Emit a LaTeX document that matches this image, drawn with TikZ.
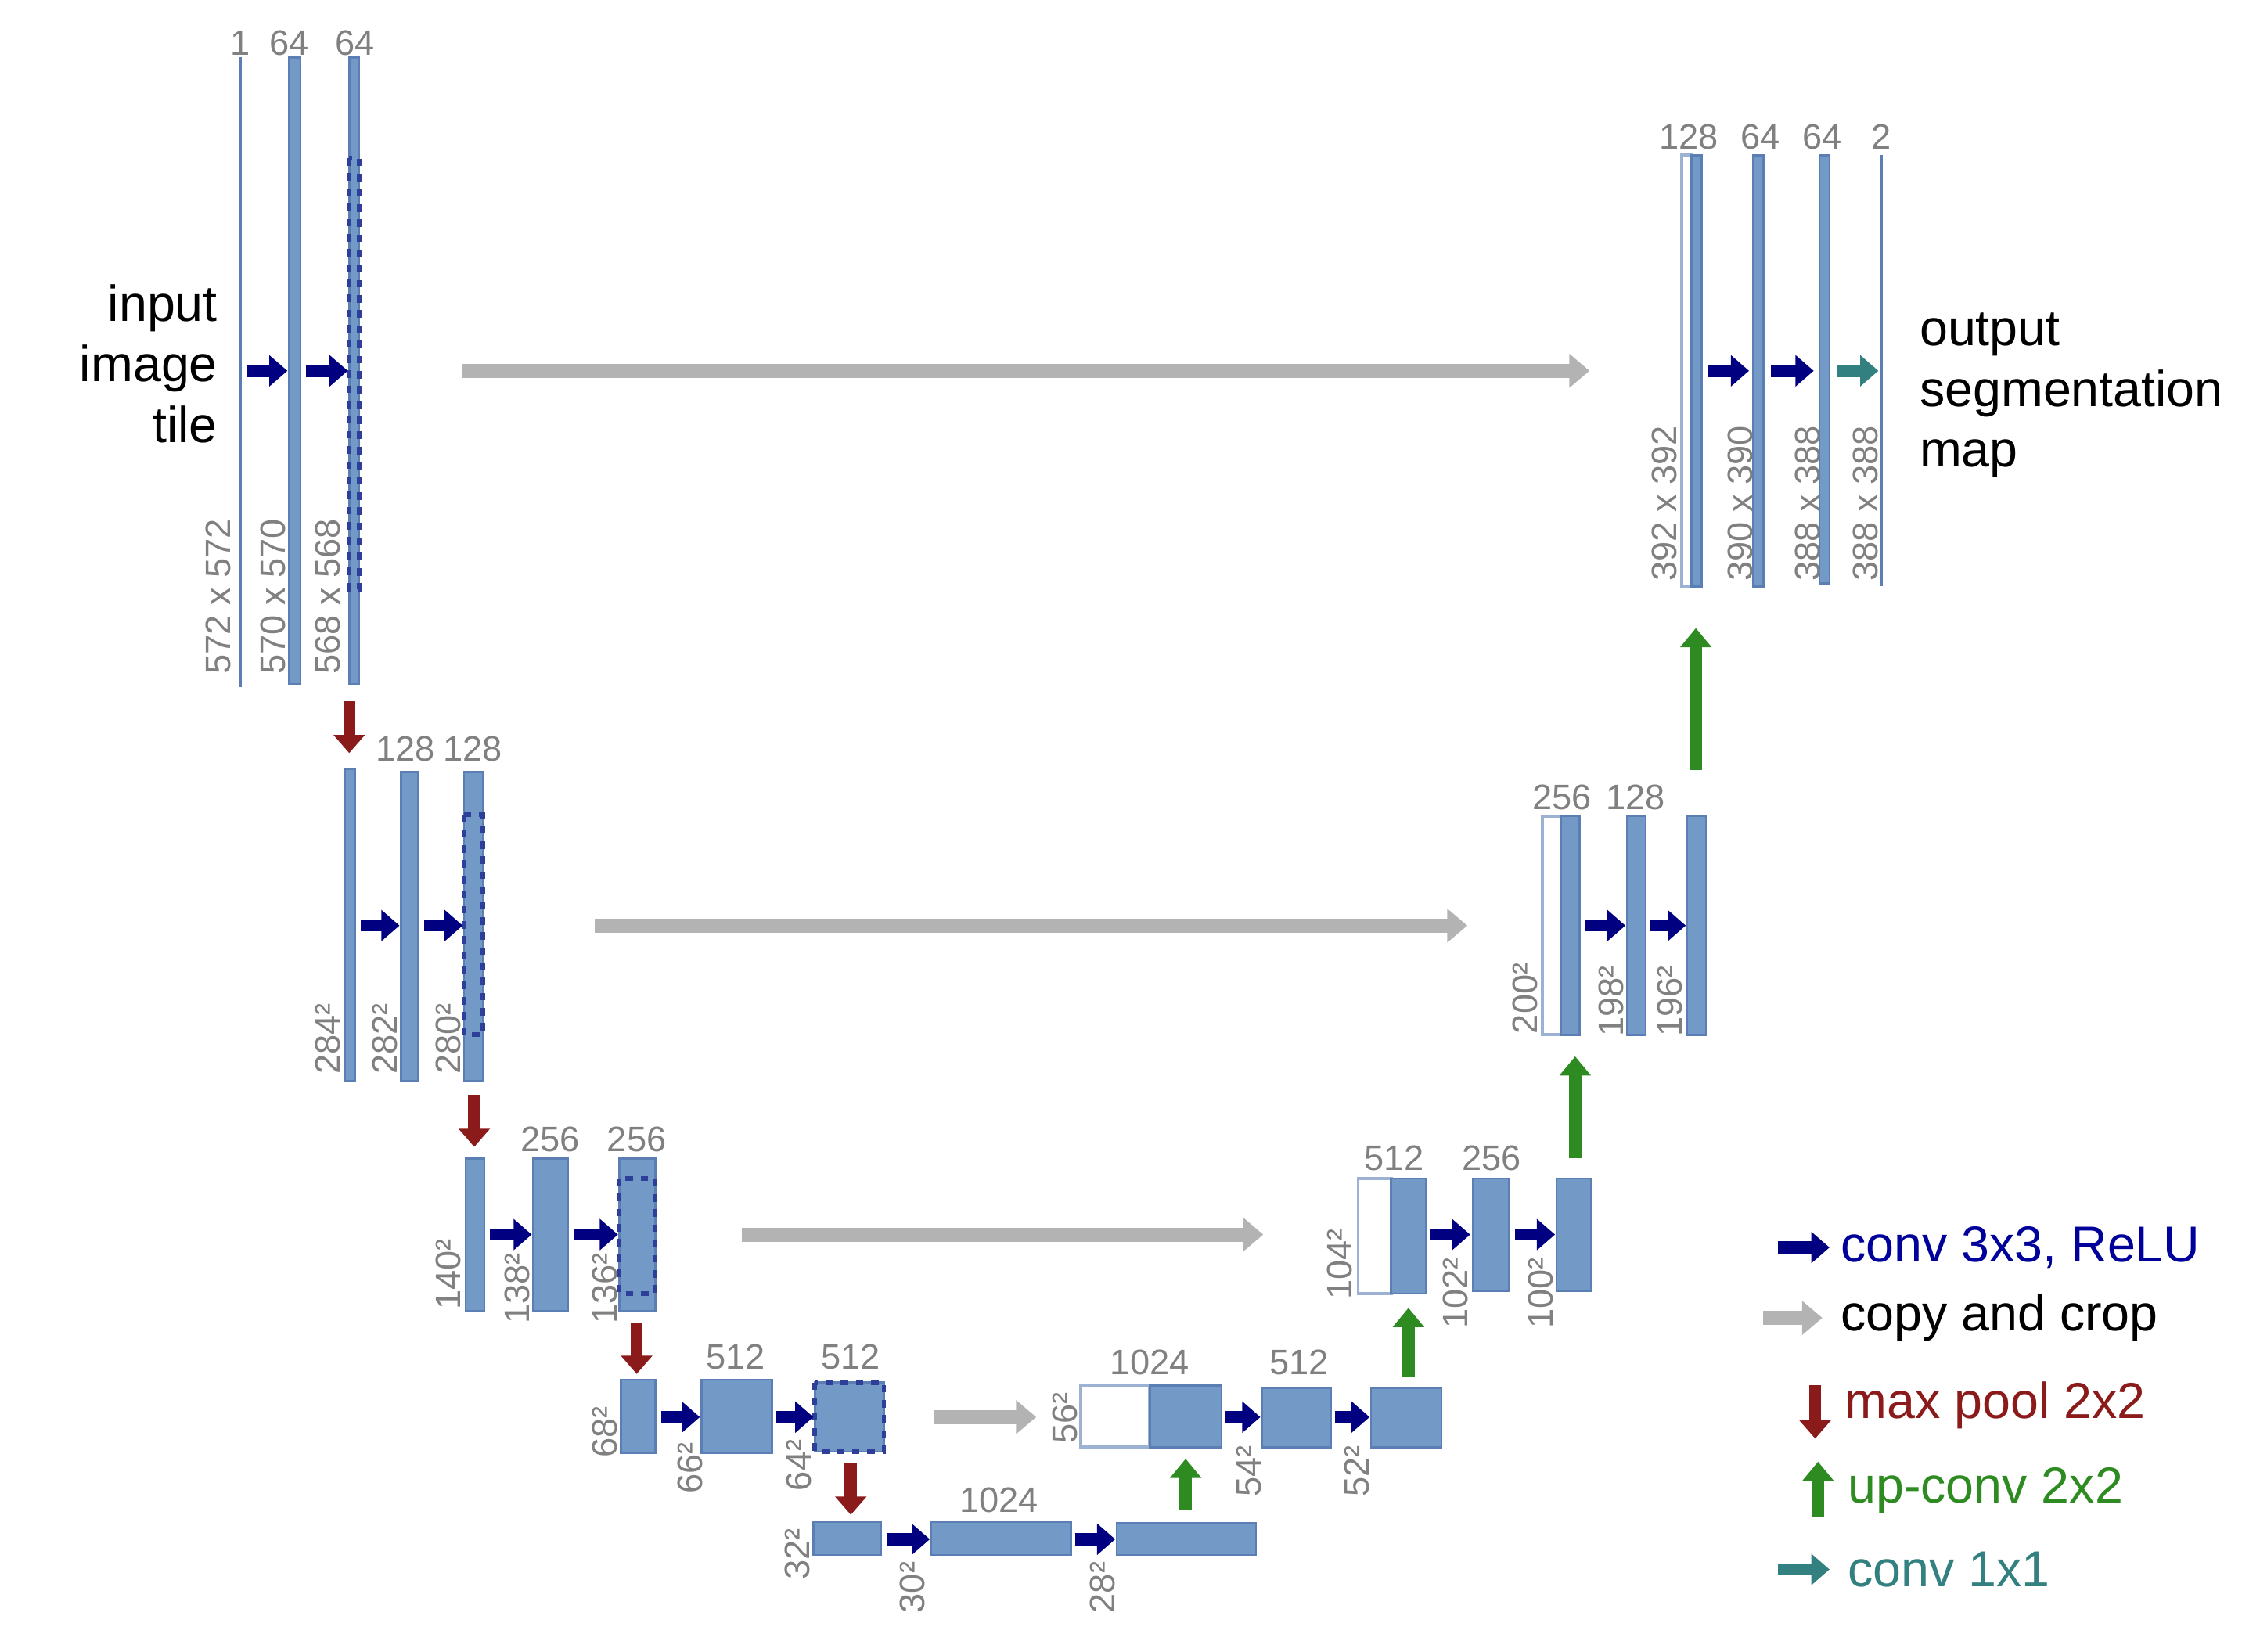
\documentclass[tikz,border=0pt]{standalone}
\usepackage{fontspec}
\setmainfont{Liberation Sans}
\usetikzlibrary{arrows.meta}
\definecolor{bfill}{HTML}{7399C6}
\definecolor{bedge}{HTML}{5B7FB5}
\definecolor{navy}{HTML}{000080}
\definecolor{cgray}{HTML}{B3B3B3}
\definecolor{mred}{HTML}{8B1A1A}
\definecolor{ugreen}{HTML}{2E8B22}
\definecolor{cteal}{HTML}{338080}
\definecolor{lblc}{HTML}{808080}
\tikzset{
 blk/.style={fill=bfill,draw=bedge,line width=0.4pt},
 wblk/.style={fill=white,draw=bedge!60,line width=0.6pt},
 dsh/.style={draw=bedge!50!navy,dashed,line width=0.9pt,dash pattern=on 1.5pt off 1.5pt},
 conv/.style={navy,line width=2.4pt,-{Triangle[length=3.6pt,width=6pt]}},
 copy/.style={cgray,line width=2.8pt,-{Triangle[length=4pt,width=6.5pt]}},
 pool/.style={mred,line width=2.4pt,-{Triangle[length=3.6pt,width=6pt]}},
 up/.style={ugreen,line width=2.4pt,-{Triangle[length=3.8pt,width=6pt]}},
 one/.style={cteal,line width=2.4pt,-{Triangle[length=3.6pt,width=6pt]}},
 num/.style={lblc,font=\fontsize{7pt}{8pt}\selectfont,inner sep=0pt},
 vl/.style={lblc,font=\fontsize{7pt}{8pt}\selectfont,inner sep=0pt,rotate=90,anchor=west},
 big/.style={font=\fontsize{10pt}{12pt}\selectfont,inner sep=0pt,align=left},
 leg/.style={font=\fontsize{10pt}{12pt}\selectfont,inner sep=0pt,anchor=west},
}
\begin{document}
\begin{tikzpicture}[x=0.01cm,y=-0.01cm]
\useasboundingbox (0,0) rectangle (1560,1149);
% ---- level 1
\draw[bedge,line width=0.6pt] (167,40) -- (167,478);
\draw[blk] (201,40) rectangle (209,476);
\draw[blk] (243,40) rectangle (250,476);
\draw[dsh] (243,110) rectangle (250,410);
\node[num] (n1) at (167,30) {1};
\node[num] (n2) at (201,30) {64};
\node[num] (n3) at (247,30) {64};
\node[vl] at (152,470) {572 x 572};
\node[vl] at (190,470) {570 x 570};
\node[vl] at (228,470) {568 x 568};
\node[big,align=right,anchor=east] at (152,253) {input\\image\\tile};
\draw[conv] (172,258) -- (200,258);
\draw[conv] (213,258) -- (242,258);
\draw[copy] (322,258) -- (1106,258);
\draw[pool] (243,488) -- (243,524);
% ---- level 2
\draw[blk] (240,535) rectangle (247,752);
\draw[blk] (279,537) rectangle (291,752);
\draw[blk] (323,537) rectangle (336,752);
\draw[dsh] (323,567) rectangle (336,720);
\node[num] at (282,521) {128};
\node[num] at (329,521) {128};
\node[vl] at (228,748) {284²};
\node[vl] at (268,748) {282²};
\node[vl] at (312,748) {280²};
\draw[conv] (251,644) -- (278,644);
\draw[conv] (295,644) -- (322,644);
\draw[copy] (414,644) -- (1021,644);
\draw[pool] (330,762) -- (330,798);
% ---- level 3
\draw[blk] (324,806) rectangle (337,912);
\draw[blk] (371,806) rectangle (395,912);
\draw[blk] (431,806) rectangle (456,912);
\draw[dsh] (431,820) rectangle (456,900);
\node[num] at (383,793) {256};
\node[num] at (443,793) {256};
\node[vl] at (312,912) {140²};
\node[vl] at (360,922) {138²};
\node[vl] at (421,922) {136²};
\draw[conv] (341,859) -- (370,859);
\draw[conv] (399,859) -- (430,859);
\draw[copy] (516,859) -- (879,859);
\draw[pool] (443,920) -- (443,956);
% ---- level 4
\draw[blk] (432,960) rectangle (456,1011);
\draw[blk] (488,960) rectangle (537,1011);
\draw[blk] (567,962) rectangle (615,1010);
\draw[dsh] (567,962) rectangle (615,1010);
\node[num] at (512,944) {512};
\node[num] at (592,944) {512};
\node[vl] at (421,1015) {68²};
\node[vl] at (480,1040) {66²};
\node[vl] at (556,1038) {64²};
\draw[conv] (460,986) -- (487,986);
\draw[conv] (540,986) -- (566,986);
\draw[copy] (650,986) -- (721,986);
\draw[pool] (592,1018) -- (592,1054);
% ---- level 5
\draw[blk] (566,1059) rectangle (613,1082);
\draw[blk] (648,1059) rectangle (745,1082);
\draw[blk] (777,1060) rectangle (874,1082);
\node[num] at (695,1044) {1024};
\node[vl] at (555,1100) {32²};
\node[vl] at (635,1123) {30²};
\node[vl] at (767,1123) {28²};
\draw[conv] (617,1071) -- (647,1071);
\draw[conv] (748,1071) -- (776,1071);
\draw[up] (825,1051) -- (825,1015);
% ---- up 4
\draw[wblk] (752,964) rectangle (800,1007);
\draw[blk] (800,964) rectangle (850,1007);
\draw[blk] (878,966) rectangle (926,1007);
\draw[blk] (954,966) rectangle (1003,1007);
\node[num] at (800,948) {1024};
\node[num] at (904,948) {512};
\node[vl] at (741,1005) {56²};
\node[vl] at (869,1042) {54²};
\node[vl] at (944,1042) {52²};
\draw[conv] (852,986) -- (877,986);
\draw[conv] (929,986) -- (953,986);
\draw[up] (980,958) -- (980,910);
% ---- up 3
\draw[wblk] (945,820) rectangle (968,900);
\draw[blk] (968,820) rectangle (992,900);
\draw[blk] (1025,820) rectangle (1050,898);
\draw[blk] (1083,820) rectangle (1107,898);
\node[num] at (970,806) {512};
\node[num] at (1038,806) {256};
\node[vl] at (932,905) {104²};
\node[vl] at (1013,925) {102²};
\node[vl] at (1072,925) {100²};
\draw[conv] (995,859) -- (1023,859);
\draw[conv] (1054,859) -- (1082,859);
\draw[up] (1096,806) -- (1096,735);
% ---- up 2
\draw[wblk] (1073,568) rectangle (1086,720);
\draw[blk] (1086,568) rectangle (1099,720);
\draw[blk] (1132,568) rectangle (1145,720);
\draw[blk] (1174,568) rectangle (1187,720);
\node[num] at (1087,555) {256};
\node[num] at (1138,555) {128};
\node[vl] at (1061,720) {200²};
\node[vl] at (1121,722) {198²};
\node[vl] at (1162,722) {196²};
\draw[conv] (1103,644) -- (1131,644);
\draw[conv] (1148,644) -- (1173,644);
\draw[up] (1180,536) -- (1180,437);
% ---- up 1
\draw[wblk] (1170,108) rectangle (1177,408);
\draw[blk] (1177,108) rectangle (1184,408);
\draw[blk] (1220,108) rectangle (1227,408);
\draw[blk] (1266,108) rectangle (1273,406);
\draw[bedge,line width=0.6pt] (1309,108) -- (1309,408);
\node[num] at (1175,95) {128};
\node[num] at (1225,95) {64};
\node[num] at (1268,95) {64};
\node[num] at (1309,95) {2};
\node[vl] at (1158,405) {392 x 392};
\node[vl] at (1211,405) {390 x 390};
\node[vl] at (1258,405) {388 x 388};
\node[vl] at (1298,405) {388 x 388};
\draw[conv] (1188,258) -- (1217,258);
\draw[conv] (1232,258) -- (1262,258);
\draw[one] (1278,258) -- (1307,258);
\node[big,anchor=west] at (1335,275) {output\\segmentation\\map};
% ---- legend
\draw[conv] (1237,868) -- (1273,868);
\node[leg,text=navy!80!blue] at (1280,868) {conv 3x3, ReLU};
\draw[copy] (1227,917) -- (1268,917);
\node[leg] at (1280,917) {copy and crop};
\draw[pool] (1263,964) -- (1263,1001);
\node[leg,text=mred] at (1283,978) {max pool 2x2};
\draw[up] (1265,1056) -- (1265,1017);
\node[leg,text=ugreen] at (1285,1037) {up-conv 2x2};
\draw[one] (1237,1092) -- (1273,1092);
\node[leg,text=cteal] at (1285,1092) {conv 1x1};
\end{tikzpicture}
\end{document}
